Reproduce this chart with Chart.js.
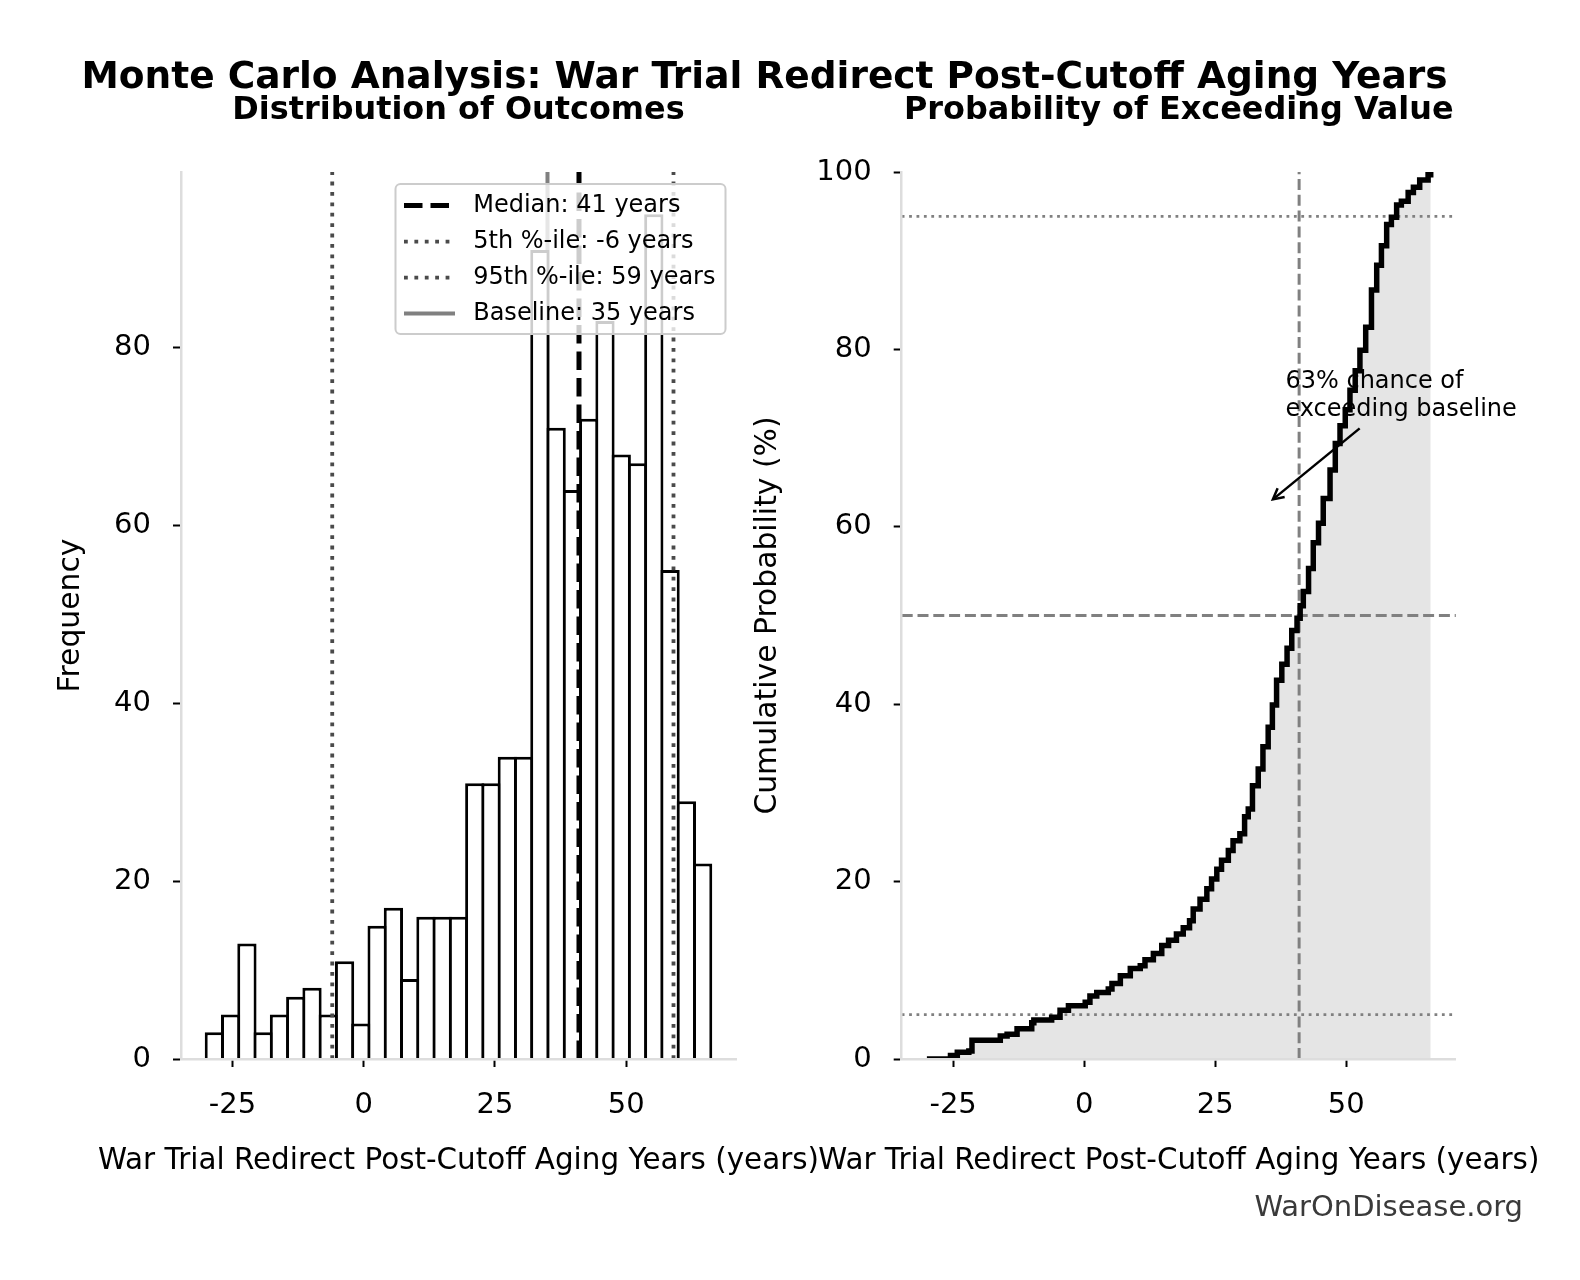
<!DOCTYPE html>
<html>
<head>
<meta charset="utf-8">
<title>Monte Carlo Analysis: War Trial Redirect Post-Cutoff Aging Years</title>
<script src="https://cdn.jsdelivr.net/npm/chart.js@4.4.1/dist/chart.umd.min.js"></script>
<style>
  html, body { margin: 0; padding: 0; background: #fff; }
  #page { position: relative; width: 1580px; height: 1280px; overflow: hidden; font-family: 'DejaVu Sans', sans-serif; }
  #page canvas { position: absolute; left: 0; top: 0; }
  .suptitle { position: absolute; left: 0; width: 1529px; top: 56.6px; font-size: 37.5px; line-height: 37.5px; font-weight: bold; text-align: center; color: #000; white-space: nowrap; }
  .credit { position: absolute; right: 57px; top: 1192px; font-size: 29px; line-height: 29px; color: #3a3a3a; white-space: nowrap; }
</style>
</head>
<body>
<div id="page">
  <canvas id="histChart" width="1580" height="1280"></canvas>
  <canvas id="cdfChart" width="1580" height="1280"></canvas>
  <div class="suptitle">Monte Carlo Analysis: War Trial Redirect Post-Cutoff Aging Years</div>
  <div class="credit">WarOnDisease.org</div>
</div>
<script>
// Histogram: 31 equal bins between binMin and binMax
const binMin = -30.0;
const binMax = 66.1;
const binCounts = [3, 5, 13, 3, 5, 7, 8, 5, 11, 4, 15, 17, 9, 16, 16, 16, 31, 31, 34, 34,
                   91, 71, 64, 72, 83, 68, 67, 95, 55, 29, 22];

// Summary values shown as reference lines
const median = 41;
const p5 = -6;
const p95 = 59;
const baseline = 35;
const exceedPct = 63;
const refLevels = [5, 50, 95];

// Empirical CDF (%), one point at the top of each visible step
const cdfX = [-30.0, -25.5, -24.2, -22.0, -21.4, -16.0, -14.7, -12.8, -10.0, -9.6, -6.2, -4.6, -3.0,
              0.2, 1.1, 2.4, 4.6, 5.3, 6.9, 8.8, 10.7, 11.6, 13.2, 14.8, 16.1, 17.6, 18.9, 20.1,
              20.8, 22.1, 23.4, 24.3, 25.3, 26.2, 27.5, 28.4, 29.7, 30.6, 31.3, 32.1, 33.2, 34.1,
              35.1, 35.9, 36.7, 37.7, 38.7, 39.6, 40.6, 41.2, 41.8, 42.8, 43.7, 44.7, 45.6, 46.9,
              47.9, 48.8, 49.8, 50.7, 51.7, 52.6, 53.7, 54.8, 55.8, 56.7, 57.7, 58.6, 59.6, 60.5,
              61.8, 62.8, 64.0, 65.6, 66.1];
const cdfY = [0.0, 0.4, 0.75, 0.9, 2.1, 2.6, 2.8, 3.4, 4.1, 4.4, 4.7, 5.5, 6.0,
              6.4, 7.1, 7.5, 7.9, 8.5, 9.4, 10.2, 10.5, 11.2, 11.9, 12.8, 13.4, 14.1, 14.8, 15.6,
              16.9, 18.0, 19.2, 20.3, 21.4, 22.4, 23.5, 24.6, 25.4, 27.3, 28.2, 30.8, 32.7, 35.2,
              37.4, 39.9, 42.7, 44.5, 46.3, 48.3, 49.7, 51.1, 52.7, 55.3, 58.2, 60.4, 63.2, 66.4,
              69.4, 71.4, 73.2, 75.4, 77.6, 79.9, 82.5, 86.7, 89.5, 91.7, 94.1, 94.9, 96.3, 96.7,
              97.7, 98.3, 99.1, 99.7, 100];

// Ticks and labels
const xTicks = [-25, 0, 25, 50];
const xTickLabels = ['-25', '0', '25', '50'];
const histYTicks = [0, 20, 40, 60, 80];
const cdfYTicks = [0, 20, 40, 60, 80, 100];
const xLabel = 'War Trial Redirect Post-Cutoff Aging Years (years)';

Chart.defaults.font.family = "'DejaVu Sans', sans-serif";
Chart.defaults.color = '#000';

const binWidth = (binMax - binMin) / binCounts.length;
const histData = binCounts.map((c, i) => ({ x: binMin + (i + 0.5) * binWidth, y: c }));
const histYMax = Math.max(...binCounts) * 1.05;
const xMin = binMin - 0.05 * (binMax - binMin);
const xMax = binMax + 0.05 * (binMax - binMin);

const vLine = (x, top) => [{ x: x, y: 0 }, { x: x, y: top }];
const fixedTicks = values => axis => { axis.ticks = values.map(v => ({ value: v })); };

const tickGrid = { display: true, drawOnChartArea: false, tickLength: 8, tickWidth: 2, tickColor: '#000' };
const spine = { display: true, color: '#dddddd', width: 2.5, z: 1 };
const labelSize = 29.8;

function xScale() {
    return {
        type: 'linear', min: xMin, max: xMax, offset: false,
        afterBuildTicks: fixedTicks(xTicks),
        afterFit: axis => { axis.height = 120; },
        grid: Object.assign({ offset: false }, tickGrid),
        border: spine,
        ticks: { padding: 21.5, font: { size: 29 }, maxRotation: 0, autoSkip: false,
                 callback: v => xTickLabels[xTicks.indexOf(v)] }
    };
}

function yScale(max, ticks, width, title, titlePad) {
    return {
        type: 'linear', min: 0, max: max,
        afterBuildTicks: fixedTicks(ticks),
        afterFit: axis => { axis.width = width; },
        grid: tickGrid,
        border: spine,
        ticks: { padding: 22, font: { size: 29 } },
        title: { display: true, text: title, font: { size: labelSize }, padding: { top: titlePad, bottom: 0 } }
    };
}

// x-axis caption drawn by hand so it is not squeezed to the axis width
const xCaption = {
    id: 'xCaption',
    afterDraw(chart, args, opts) {
        const { ctx, chartArea } = chart;
        ctx.save();
        ctx.font = opts.size + "px 'DejaVu Sans'";
        ctx.fillStyle = '#000';
        ctx.textAlign = 'center';
        ctx.textBaseline = 'alphabetic';
        ctx.fillText(opts.text, (chartArea.left + chartArea.right) / 2, chartArea.bottom + opts.offset);
        ctx.restore();
    }
};

function roundRectPath(ctx, x, y, w, h, r) {
    ctx.beginPath();
    ctx.moveTo(x + r, y);
    ctx.arcTo(x + w, y, x + w, y + h, r);
    ctx.arcTo(x + w, y + h, x, y + h, r);
    ctx.arcTo(x, y + h, x, y, r);
    ctx.arcTo(x, y, x + w, y, r);
    ctx.closePath();
}

// matplotlib-like framed legend in the upper right of the plot area
const boxLegend = {
    id: 'boxLegend',
    afterDatasetsDraw(chart, args, opts) {
        const { ctx, chartArea } = chart;
        const items = chart.data.datasets.filter(d => d.type === 'line');
        const right = chartArea.right - opts.insetRight;
        const top = chartArea.top + opts.insetTop;
        const left = right - opts.width;
        ctx.save();
        roundRectPath(ctx, left, top, opts.width, opts.height, opts.radius);
        ctx.fillStyle = 'rgba(255,255,255,0.8)';
        ctx.fill();
        ctx.lineWidth = 2;
        ctx.strokeStyle = '#cccccc';
        ctx.stroke();
        ctx.font = opts.fontSize + "px 'DejaVu Sans'";
        ctx.textAlign = 'left';
        ctx.textBaseline = 'middle';
        items.forEach((d, i) => {
            const y = top + opts.firstRow + i * opts.rowGap;
            ctx.beginPath();
            ctx.setLineDash(d.borderDash || []);
            ctx.lineWidth = d.borderWidth;
            ctx.strokeStyle = d.borderColor;
            ctx.moveTo(left + opts.handleStart, y);
            ctx.lineTo(left + opts.handleEnd, y);
            ctx.stroke();
            ctx.setLineDash([]);
            ctx.fillStyle = '#000';
            ctx.fillText(d.label, left + opts.textOffset, y);
        });
        ctx.restore();
    }
};

// text note with an open arrow, placed in data coordinates
const arrowNote = {
    id: 'arrowNote',
    afterDatasetsDraw(chart, args, opts) {
        const { ctx, scales: { x, y } } = chart;
        const tx = x.getPixelForValue(opts.textAt[0]);
        const ty = y.getPixelForValue(opts.textAt[1]);
        ctx.save();
        ctx.font = opts.fontSize + "px 'DejaVu Sans'";
        ctx.fillStyle = '#000';
        ctx.textAlign = 'left';
        ctx.textBaseline = 'alphabetic';
        opts.lines.forEach((t, i) => ctx.fillText(t, tx, ty + i * opts.lineGap));

        const x0 = x.getPixelForValue(opts.from[0]), y0 = y.getPixelForValue(opts.from[1]);
        const x1 = x.getPixelForValue(opts.to[0]), y1 = y.getPixelForValue(opts.to[1]);
        const ang = Math.atan2(y1 - y0, x1 - x0);
        const head = 12, spread = 0.48;
        ctx.strokeStyle = '#000';
        ctx.lineWidth = 2.5;
        ctx.beginPath();
        ctx.moveTo(x0, y0);
        ctx.lineTo(x1, y1);
        ctx.stroke();
        ctx.beginPath();
        ctx.moveTo(x1 - head * Math.cos(ang - spread), y1 - head * Math.sin(ang - spread));
        ctx.lineTo(x1, y1);
        ctx.lineTo(x1 - head * Math.cos(ang + spread), y1 - head * Math.sin(ang + spread));
        ctx.stroke();
        ctx.restore();
    }
};

const subtitleFont = { size: 31.9, weight: 'bold' };
const subtitlePad = { top: 4.3, bottom: 42.5 };

// Left: distribution of outcomes
new Chart(document.getElementById('histChart'), {
    type: 'bar',
    data: {
        datasets: [
            { type: 'line', label: 'Median: ' + median + ' years', data: vLine(median, histYMax),
              borderColor: '#000', borderWidth: 5, borderDash: [18.5, 8], pointRadius: 0, order: 1 },
            { type: 'line', label: '5th %-ile: ' + p5 + ' years', data: vLine(p5, histYMax),
              borderColor: '#4a4a4a', borderWidth: 3.8, borderDash: [3.8, 6.6], pointRadius: 0, order: 1 },
            { type: 'line', label: '95th %-ile: ' + p95 + ' years', data: vLine(p95, histYMax),
              borderColor: '#4a4a4a', borderWidth: 3.8, borderDash: [3.8, 6.6], pointRadius: 0, order: 1 },
            { type: 'line', label: 'Baseline: ' + baseline + ' years', data: vLine(baseline, histYMax),
              borderColor: '#808080', borderWidth: 4, pointRadius: 0, order: 3 },
            { type: 'bar', label: 'Frequency', data: histData,
              backgroundColor: '#ffffff', borderColor: '#000', borderWidth: 3, borderSkipped: 'start',
              inflateAmount: 0, barPercentage: 1.184, categoryPercentage: 1, order: 2 }
        ]
    },
    options: {
        responsive: false,
        animation: false,
        events: [],
        layout: { padding: { top: 87, left: 0, right: 844, bottom: 101 } },
        plugins: {
            legend: { display: false },
            tooltip: { enabled: false },
            title: { display: true, fullSize: false, text: 'Distribution of Outcomes', font: subtitleFont,
                     color: '#000', padding: subtitlePad },
            xCaption: { text: xLabel, size: 29.4, offset: 110 },
            boxLegend: { fontSize: 24, insetRight: 10.5, insetTop: 12, width: 330, height: 150,
                         handleStart: 8.5, handleEnd: 59.5, textOffset: 77.7, firstRow: 21.5,
                         rowGap: 36, radius: 5 }
        },
        scales: {
            x: xScale(),
            y: yScale(histYMax, histYTicks, 181, 'Frequency', 53.1)
        }
    },
    plugins: [xCaption, boxLegend]
});

// Right: cumulative probability
const refLines = refLevels.map(level => ({
    label: level + '%',
    data: [{ x: xMin, y: level }, { x: xMax, y: level }],
    borderColor: '#808080',
    borderWidth: level === 50 ? 3 : 2.8,
    borderDash: level === 50 ? [11, 4.8] : [2.8, 4.6],
    pointRadius: 0,
    fill: false
}));

new Chart(document.getElementById('cdfChart'), {
    type: 'line',
    data: {
        datasets: [
            { label: 'Cumulative Probability', data: cdfX.map((x, i) => ({ x: x, y: cdfY[i] })),
              stepped: true, borderColor: '#000', borderWidth: 5.5, backgroundColor: '#e5e5e5',
              fill: 'origin', pointRadius: 0 },
            { label: 'Median', data: vLine(median, 100), borderColor: '#808080', borderWidth: 3,
              borderDash: [11, 4.8], pointRadius: 0, fill: false }
        ].concat(refLines)
    },
    options: {
        responsive: false,
        animation: false,
        events: [],
        layout: { padding: { top: 87, left: 720, right: 124.1, bottom: 101 } },
        plugins: {
            legend: { display: false },
            tooltip: { enabled: false },
            filler: { drawTime: 'beforeDatasetsDraw' },
            title: { display: true, fullSize: false, text: 'Probability of Exceeding Value', font: subtitleFont,
                     color: '#000', padding: subtitlePad },
            xCaption: { text: xLabel, size: 29.4, offset: 110 },
            arrowNote: { lines: [exceedPct + '% chance of', 'exceeding baseline'], fontSize: 24,
                         textAt: [38.4, 75.68], lineGap: 28, from: [52.55, 71.1], to: [36.0, 63.1] }
        },
        scales: {
            x: xScale(),
            y: yScale(100, cdfYTicks, 181.7, 'Cumulative Probability (%)', 30.1)
        }
    },
    plugins: [xCaption, arrowNote]
});
</script>
</body>
</html>
